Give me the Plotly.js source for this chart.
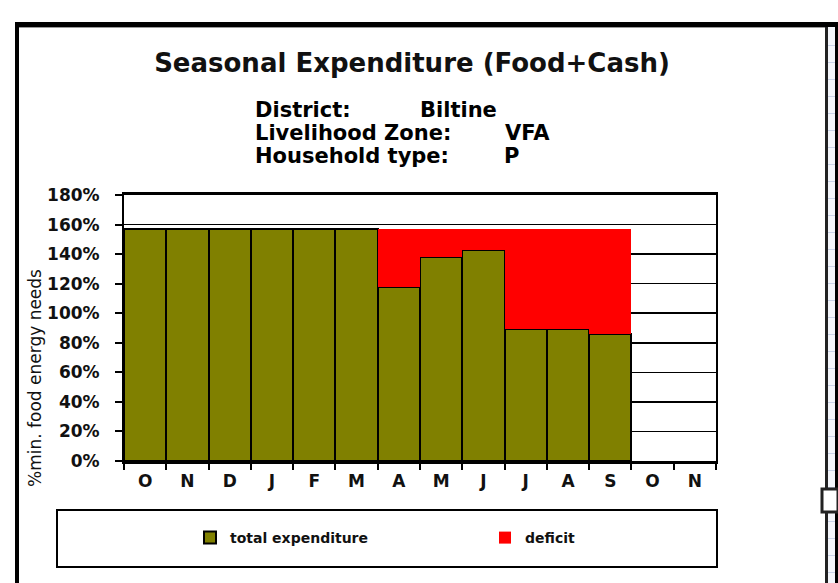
<!DOCTYPE html>
<html>
<head>
<meta charset="utf-8">
<script src="https://cdn.plot.ly/plotly-3.0.1.min.js"></script>
<style>
html,body{margin:0;padding:0;background:#fff;}
#chart{width:838px;height:583px;}
</style>
</head>
<body>
<div id="chart"></div>
<script>
// ---- data ----
var monthLabels = ['O','N','D','J','F','M','A','M','J','J','A','S','O','N'];
var monthIndex = [0,1,2,3,4,5,6,7,8,9,10,11,12,13];
var totalExpenditure = [157,157,157,157,157,157,118,138,143,89,89,86,null,null];
var deficit = [0,0,0,0,0,0,39,19,14,68,68,71,null,null];
var yTicks = [0,20,40,60,80,100,120,140,160,180];
var yTickLabels = ['0%','20%','40%','60%','80%','100%','120%','140%','160%','180%'];
var infoLabels = ['District:','Livelihood Zone:','Household type:'];
var infoValues = ['Biltine','VFA','P'];

// ---- geometry helpers ----
var W = 838, H = 583;
var ML = 124, MR = 122, MT = 195, MB = 122;
var PW = W - ML - MR, PH = H - MT - MB;
function X(px){ return (px - ML) / PW; }
function Y(py){ return (H - MB - py) / PH; }

var FONT = 'DejaVu Sans';

var traces = [
  {
    type: 'bar', name: 'total expenditure',
    x: monthIndex, y: totalExpenditure,
    marker: {color: '#808000', line: {color: '#000000', width: 2}},
    hoverinfo: 'skip'
  },
  {
    type: 'bar', name: 'deficit',
    x: monthIndex, y: deficit,
    marker: {color: '#ff0000', line: {color: '#ff0000', width: 0}},
    hoverinfo: 'skip'
  }
];

var shapes = [];
function rectPx(x0, y0, x1, y1, fill, lineColor, lineW){
  shapes.push({type:'rect', xref:'paper', yref:'paper',
    x0:X(x0), x1:X(x1), y0:Y(y1), y1:Y(y0),
    fillcolor: fill, line:{color: lineColor || 'rgba(0,0,0,0)', width: lineW || 0}, layer:'above'});
}
// spreadsheet strip on the right
rectPx(828, 27, 835, 583, '#f4f6fb');
for (var yy = 45; yy < 583; yy += 17) {
  rectPx(828, yy, 835, yy + 1, '#c9d3e8');
}
// outer frame
rectPx(15, 22, 19, 583, '#000000');
rectPx(15, 22, 838, 27, '#000000');
rectPx(19, 27, 825, 28, '#9a9a9a');
rectPx(825, 27, 828, 583, '#222222');
rectPx(835, 22, 838, 583, '#000000');
// selection handle
rectPx(822, 489, 838, 512, '#ffffff', '#222222', 3);
// legend box
rectPx(57, 510, 717, 567, 'rgba(0,0,0,0)', '#000000', 2);

var annotations = [];
var infoY = [110, 133, 156];
var valueX = [418, 503, 502];
for (var i = 0; i < infoLabels.length; i++) {
  annotations.push({xref:'paper', yref:'paper', x:X(253), y:Y(infoY[i]),
    xanchor:'left', yanchor:'middle', showarrow:false, text: infoLabels[i],
    font:{family:FONT, size:21, weight:700, color:'#000'}});
  annotations.push({xref:'paper', yref:'paper', x:X(valueX[i]), y:Y(infoY[i]),
    xanchor:'left', yanchor:'middle', showarrow:false, text: infoValues[i],
    font:{family:FONT, size:21, weight:700, color:'#000'}});
}
// y-axis title (placed like the original, below the plot centre)
annotations.push({xref:'paper', yref:'paper', x:X(35), y:Y(378),
  xanchor:'center', yanchor:'middle', showarrow:false, textangle:-90,
  text:'%min. food energy needs',
  font:{family:FONT, size:17, color:'#111'}});

var layout = {
  width: W, height: H,
  margin: {l: ML, r: MR, t: MT, b: MB, pad: 0},
  paper_bgcolor: '#ffffff', plot_bgcolor: '#ffffff',
  barmode: 'stack', bargap: 0,
  showlegend: true,
  title: {
    text: 'Seasonal Expenditure (Food+Cash)',
    x: 412 / W, xanchor: 'center', xref: 'container',
    y: 1 - 63 / H, yanchor: 'middle', yref: 'container',
    font: {family: FONT, size: 26, weight: 700, color: '#111'}
  },
  xaxis: {
    range: [-0.5, 13.5], tickmode: 'array', tickvals: monthIndex, ticktext: monthLabels,
    ticks: '', showgrid: false, zeroline: false,
    showline: true, linecolor: '#000', linewidth: 3, mirror: true,
    tickfont: {family: FONT, size: 17, weight: 700, color: '#111'},
    ticklabelstandoff: 3,
    minor: {tickmode: 'linear', tick0: -0.5, dtick: 1, ticks: 'outside', ticklen: 6, tickwidth: 2, tickcolor: '#000', showgrid: false},
    fixedrange: true
  },
  yaxis: {
    range: [0, 180], tickmode: 'array', tickvals: yTicks, ticktext: yTickLabels,
    ticks: 'outside', ticklen: 7, tickwidth: 2, tickcolor: '#000',
    showgrid: true, gridcolor: '#000', gridwidth: 1.5, zeroline: false,
    showline: true, linecolor: '#000', linewidth: 2, mirror: true,
    tickfont: {family: FONT, size: 17, weight: 700, color: '#111'},
    ticklabelstandoff: 12,
    automargin: false,
    fixedrange: true
  },
  legend: {
    orientation: 'h', traceorder: 'normal',
    x: X(190), y: Y(538), xanchor: 'left', yanchor: 'middle',
    bgcolor: 'rgba(0,0,0,0)', borderwidth: 0,
    entrywidth: 250, entrywidthmode: 'pixels', itemwidth: 30,
    font: {family: FONT, size: 14, weight: 700, color: '#111'}
  },
  shapes: shapes,
  annotations: annotations
};

Plotly.newPlot('chart', traces, layout, {displayModeBar: false, staticPlot: true});
</script>
</body>
</html>
